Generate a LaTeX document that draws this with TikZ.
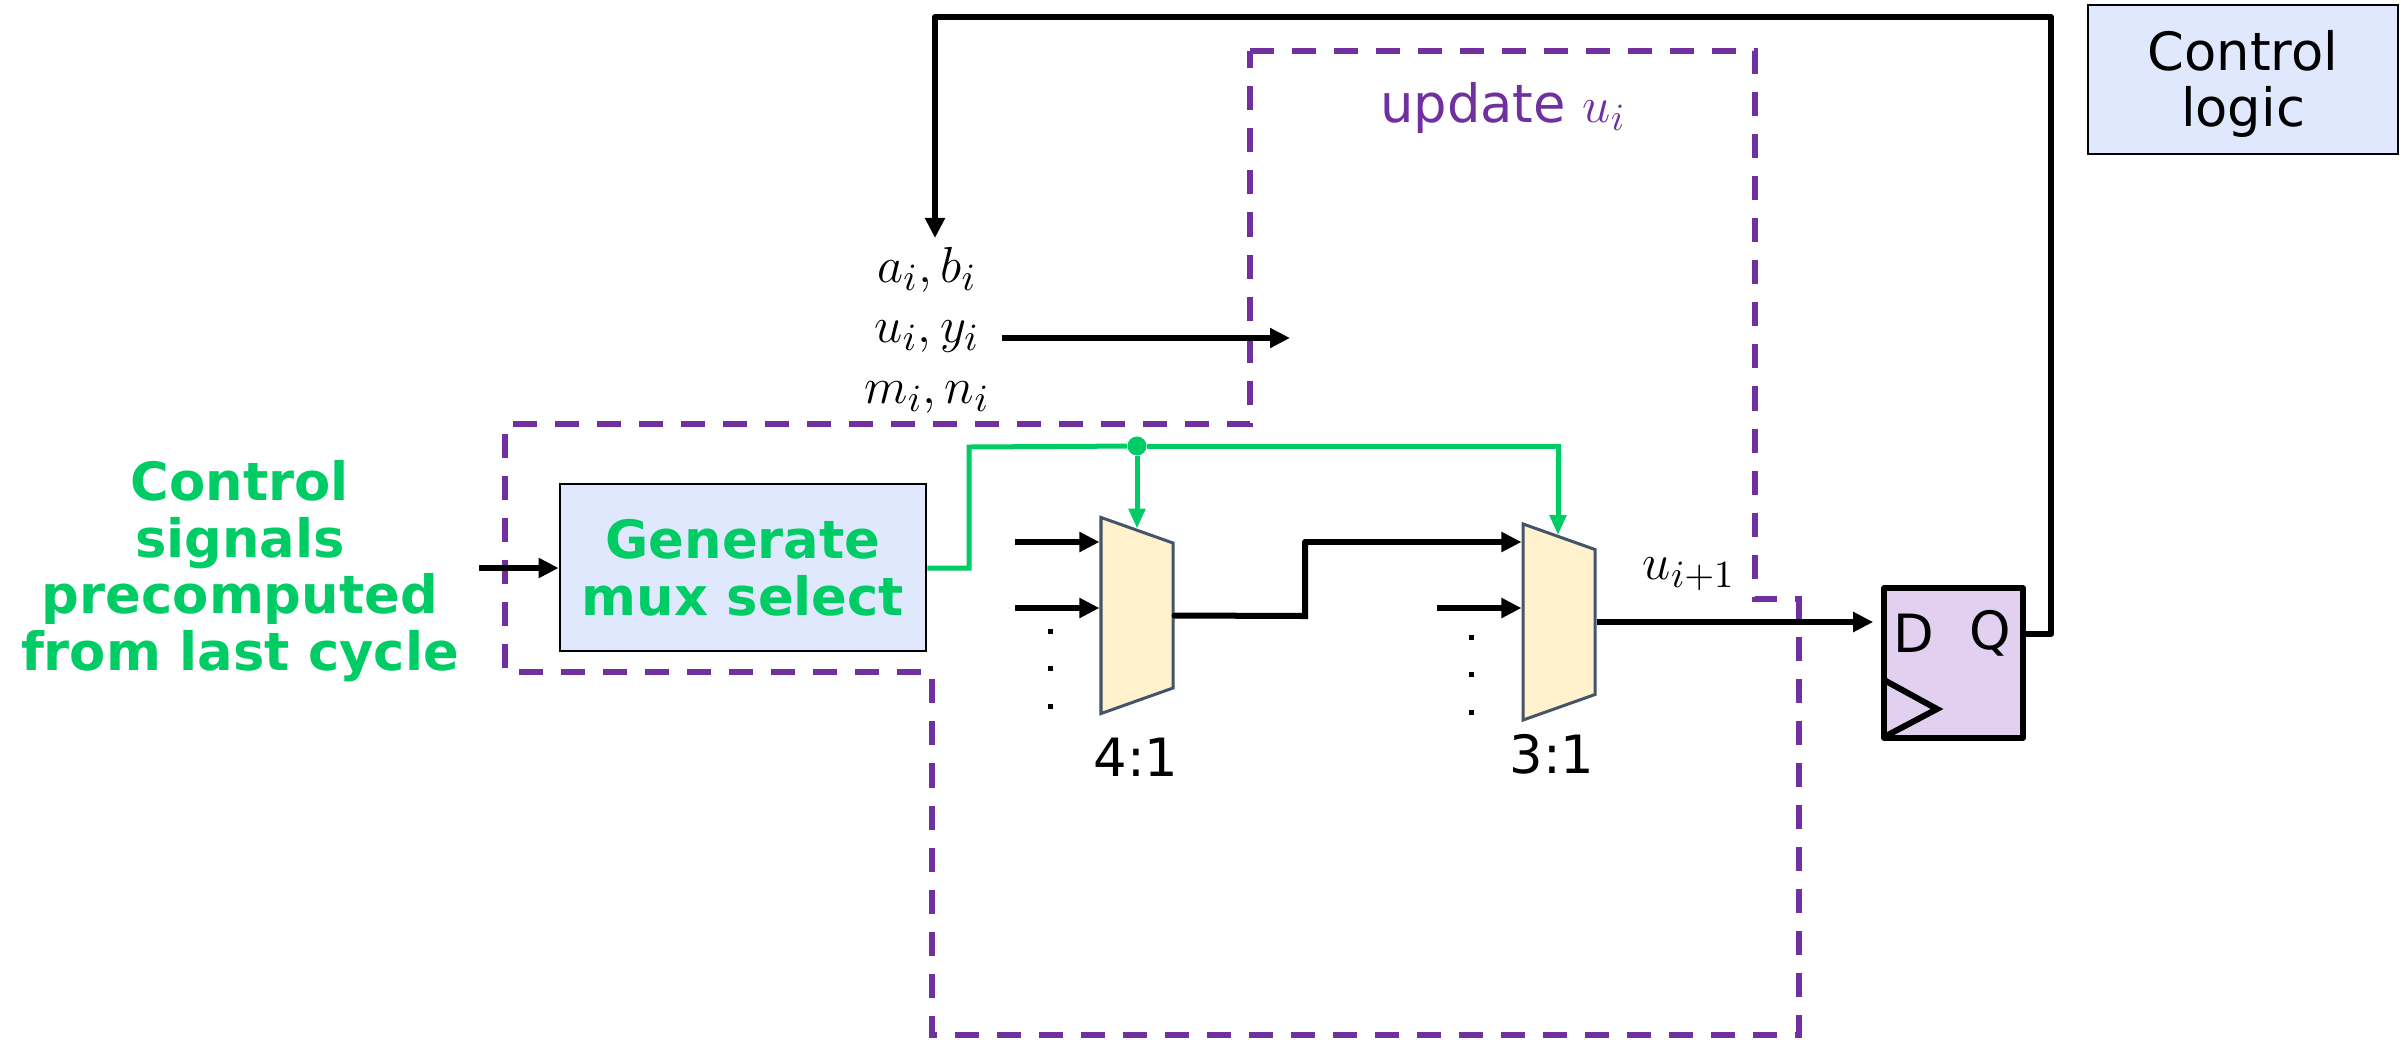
\documentclass[tikz,border=0pt]{standalone}
\usepackage{fontspec}
\setmainfont{DejaVu Sans}
\usetikzlibrary{arrows.meta,shapes.geometric}
\definecolor{ctrlgreen}{HTML}{00CC66}
\definecolor{updpurple}{HTML}{7030A0}
\definecolor{boxblue}{HTML}{DFE8FC}
\definecolor{muxyellow}{HTML}{FFF2CC}
\definecolor{muxedge}{HTML}{44546A}
\definecolor{ffpurple}{HTML}{E1D0F0}

\begin{document}
\begin{tikzpicture}[x=0.01cm,y=-0.01cm]
    % ===================================
    % Settings
    % ===================================
    \def\lw{0.06cm}     % width of the signal lines
    \def\lh{16.1pt}     % baseline distance of the text

    \tikzset{
        txt/.style={font=\fontsize{15}{\lh}\selectfont, align=center, inner sep=0pt},
        ctrltxt/.style={txt, font=\fontsize{15}{\lh}\selectfont\bfseries, text=ctrlgreen},
        mathtxt/.style={font=\fontsize{15.8}{17.2pt}\selectfont, align=center, inner sep=0pt},
        bluebox/.style={draw=black, fill=boxblue, line width=0.025cm, minimum width=3.66cm, minimum height=1.67cm, inner sep=0pt},
        muxbox/.style={trapezium, shape border rotate=270, trapezium left angle=80, trapezium right angle=80,
            trapezium stretches=true, draw=muxedge, fill=muxyellow, line width=0.03cm,
            minimum height=0.72cm, minimum width=1.96cm, inner sep=1pt},
        wire/.style={draw=black, line width=\lw, -{Triangle[length=0.2cm,width=0.19cm]}},
        plainwire/.style={draw=black, line width=\lw, line cap=round},
        selwire/.style={draw=ctrlgreen, line width=0.05cm},
        seltip/.style={selwire, -{Triangle[length=0.2cm,width=0.16cm]}},
        seldot/.style={circle, fill=ctrlgreen, inner sep=0pt, minimum size=0.19cm},
        border/.style={draw=updpurple, line width=0.06cm, dash pattern=on 0.24cm off 0.18cm},
        ellip/.style={fill=black, inner sep=0pt, minimum size=0.05cm}
    }
    % ===================================

    \useasboundingbox (0,0) rectangle (2407,1039);

    % 1. Dashed border of the update block
    \draw[border] (1250,51) -- (1755,51) -- (1755,599) -- (1799,599) -- (1799,1035)
        -- (932,1035) -- (932,672) -- (505,672) -- (505,424) -- (1250,424) -- cycle;

    % 2. Text and boxes
    \node[txt, text=updpurple] (updlabel) at (1503,108) {update $u_i$};
    \node[draw=black, fill=boxblue, line width=0.025cm, minimum width=3.1cm, minimum height=1.49cm,
        txt] (logic) at (2243,79.5) {};
    \node[txt] (logictxt) at (2243,84) {Control\\logic};
    \node[ctrltxt] (signals) at (240,571) {Control\\signals\\precomputed\\from last cycle};
    \node[bluebox, ctrltxt] (gen) at (743,567.5) {Generate\\mux select};
    \node[mathtxt] (vars) at (927,330) {$a_i,b_i$\\$u_i,y_i$\\$m_i,n_i$};

    % 3. Multiplexers
    \node[muxbox] (mux1) at (1137,615.5) {};
    \node[muxbox] (mux2) at (1559,622) {};
    \node[txt] (mux1lbl) at (1136,757) {4:1};
    \node[txt] (mux2lbl) at (1552,754) {3:1};

    % 4. Flip-flop
    \node[draw=black, fill=ffpurple, line width=0.055cm, minimum width=1.39cm, minimum height=1.5cm,
        inner sep=0pt, line join=round] (ff) at (1953.5,663) {};
    \node[txt] (ffd) at (1914,633) {D};
    \node[txt] (ffq) at (1990,633) {Q};
    \coordinate (clka) at (1884,680);
    \coordinate (clkb) at (1937,709);
    \coordinate (clkc) at (1884,737);
    \draw[plainwire] (clka) -- (clkb) -- (clkc);

    % 5. Free ends of the wires
    \coordinate (sigin) at (479,568);
    \coordinate (varsout) at (1002,338);
    \coordinate (varsend) at (1290,338);
    \coordinate (fbin) at (935,238);
    \coordinate (m1a) at (1015,542);
    \coordinate (m1b) at (1015,608);
    \coordinate (m2a) at (1305,542);
    \coordinate (m2b) at (1437,608);
    \node[mathtxt] (unext) at (1689,574) {$u_{i+1}$};

    % 6. Black wires
    \draw[wire] (sigin) -- (gen.west |- sigin);
    \draw[wire] (varsout) -- (varsend);
    \foreach \u in {m1a, m1b} {
        \draw[wire] (\u) -- (\u -| mux1.west);
    }
    \draw[wire] (m2b) -- (m2b -| mux2.west);
    \draw[plainwire] (mux1.east) -- (1305,616) -- (m2a);
    \draw[wire] (m2a) -- (m2a -| mux2.west);
    \draw[wire, shorten >=0.08cm] (mux2.east) -- (ff.west |- mux2.east);
    \draw[wire, line join=round] (ff.east |- 0,634) -- (2051,634) -- (2051,17) -- (935,17) -- (fbin);

    % 7. Green select wires
    \node[seldot] (seljoin) at (1137,446) {};
    \draw[selwire] (gen.east |- 0,568) -- (969,568) -- (969,447) -- (seljoin);
    \draw[seltip] (seljoin) -- (1558,446) -- (mux2.north -| 1558,0);
    \draw[seltip] (seljoin) -- (mux1.north);

    % 8. Dots below the multiplexer inputs
    \foreach \y [count=\i] in {631,668,706} {
        \node[ellip] (mdot\i) at (1050,\y) {};
    }
    \foreach \y [count=\i] in {637,674,712} {
        \node[ellip] (ndot\i) at (1471,\y) {};
    }
\end{tikzpicture}
\end{document}
